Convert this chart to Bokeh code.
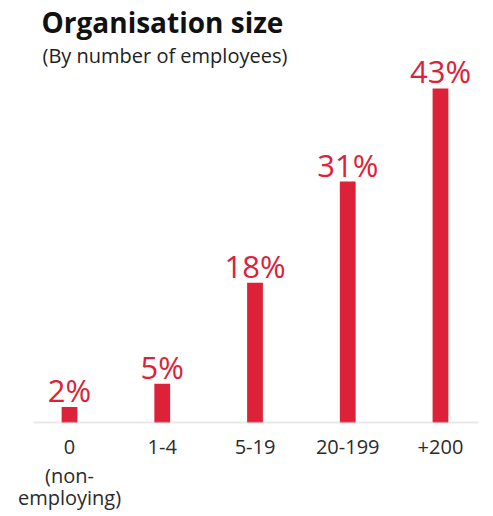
from bokeh.plotting import figure
from bokeh.models import ColumnDataSource, Range1d, Label, FactorRange, BoxAnnotation
from bokeh.core.properties import value
from bokeh.embed import file_html
from bokeh.resources import INLINE

categories = ["0", "1-4", "5-19", "20-199", "+200"]
tick_line1 = ["0", "1-4", "5-19", "20-199", "+200"]
tick_line2 = ["(non-", "", "", "", ""]
tick_line3 = ["employing)", "", "", "", ""]
shares = [2, 5, 18, 31, 43]
share_labels = ["2%", "5%", "18%", "31%", "43%"]

RED = "#dd2139"
FONT = "Open Sans"

src = ColumnDataSource(dict(cat=categories, share=shares, lab=share_labels,
                            t1=tick_line1, t2=tick_line2, t3=tick_line3,
                            zero=[0] * len(categories)))

p = figure(width=493, height=516, output_backend="svg", toolbar_location=None,
           x_range=FactorRange(*categories, range_padding=0.0716, range_padding_units="absolute"),
           y_range=Range1d(-12.10, 54.31),
           min_border_left=16, min_border_right=0, min_border_top=0, min_border_bottom=0)
p.outline_line_color = None
p.grid.visible = False
p.xaxis.visible = False
p.yaxis.visible = False
p.background_fill_color = "white"
p.border_fill_color = "white"

# baseline (axis line)
p.add_layout(BoxAnnotation(left=33, right=478, left_units="canvas", right_units="canvas",
                           bottom=0, top=0, fill_alpha=0, line_color="#b3b3b3", line_width=2))

p.vbar(x="cat", top="share", width=0.17, source=src, fill_color=RED, line_color=None)
p.text(x="cat", y="share", text="lab", source=src, text_align="center",
       text_baseline="middle", y_offset=-17, text_color=RED,
       text_font=value(FONT), text_font_size="31px")

for col, off in (("t1", 25), ("t2", 53), ("t3", 75)):
    p.text(x="cat", y="zero", text=col, source=src, text_align="center",
           text_baseline="middle", y_offset=off, text_color="#2b2b2b",
           text_font=value(FONT), text_font_size="20px")

p.add_layout(Label(x=25, y=494.6, x_units="screen", y_units="screen", text="Organisation size",
                   text_font=FONT, text_font_style="bold", text_font_size="28px",
                   text_color="#111111", text_baseline="middle"))
p.add_layout(Label(x=26, y=460.6, x_units="screen", y_units="screen", text="(By number of employees)",
                   text_font=FONT, text_font_size="20px",
                   text_color="#222222", text_baseline="middle"))

open("out.html", "w").write(file_html(p, INLINE))
